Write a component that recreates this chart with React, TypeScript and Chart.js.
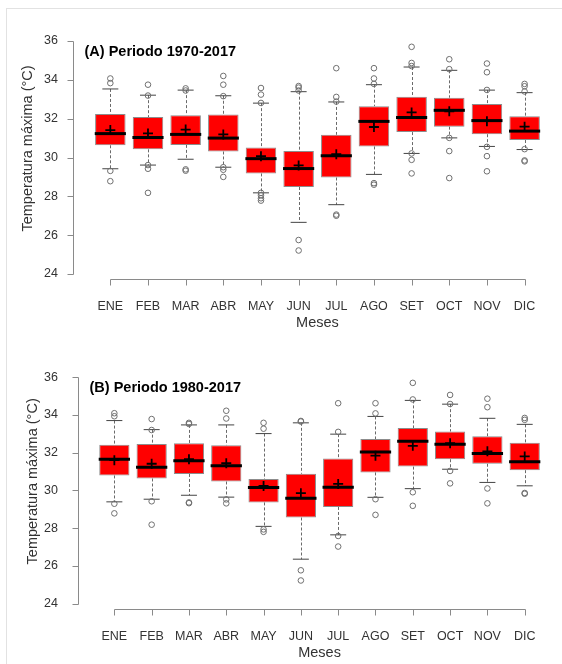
import React, { useEffect, useRef } from 'react';
import { Chart, registerables } from 'chart.js';

Chart.register(...registerables);

const months = ['ENE', 'FEB', 'MAR', 'ABR', 'MAY', 'JUN', 'JUL', 'AGO', 'SET', 'OCT', 'NOV', 'DIC'];
const yTicks = [24, 26, 28, 30, 32, 34, 36];

// Panel A: 1970-2017
const q1A = [30.63, 30.42, 30.65, 30.31, 29.18, 28.48, 28.97, 30.57, 31.31, 31.59, 31.2, 30.9];
const q3A = [32.24, 32.08, 32.18, 32.21, 30.52, 30.33, 31.17, 32.64, 33.13, 33.08, 32.75, 32.13];
const medA = [31.23, 31.03, 31.19, 31.0, 29.94, 29.43, 30.09, 31.86, 32.06, 32.43, 31.9, 31.36];
const meanA = [31.41, 31.24, 31.44, 31.19, 30.07, 29.59, 30.17, 31.57, 32.32, 32.38, 31.87, 31.59];
const hiA = [33.53, 33.21, 33.47, 33.18, 32.8, 33.39, 32.86, 33.75, 34.66, 34.49, 33.47, 33.34];
const loA = [29.42, 29.61, 29.91, 29.5, 28.18, 26.66, 27.57, 29.13, 30.21, 31.01, 30.57, 30.41];
const outA = [
  [34.07, 33.83, 29.31, 28.78],
  [33.75, 33.19, 29.61, 29.42, 28.18],
  [33.56, 33.45, 29.39, 29.32],
  [34.2, 33.75, 33.16, 29.5, 29.37, 29.0],
  [33.58, 33.24, 32.81, 28.18, 28.06, 27.9, 27.78],
  [33.68, 33.6, 33.45, 25.75, 25.21],
  [34.6, 33.12, 32.88, 27.06, 27.0],
  [34.6, 34.07, 33.79, 28.68, 28.6],
  [35.7, 34.87, 34.71, 30.21, 29.88, 29.18],
  [35.06, 34.55, 31.01, 30.33, 28.94],
  [34.84, 34.39, 33.48, 30.55, 30.07, 29.29],
  [33.79, 33.67, 33.4, 30.43, 29.85, 29.8],
];

// Panel B: 1980-2017
const q1B = [30.79, 30.63, 30.87, 30.47, 29.36, 28.56, 29.12, 30.95, 31.26, 31.65, 31.41, 31.07];
const q3B = [32.42, 32.46, 32.5, 32.39, 30.6, 30.88, 31.69, 32.72, 33.3, 33.12, 32.87, 32.53];
const medB = [31.65, 31.22, 31.57, 31.3, 30.15, 29.58, 30.17, 32.03, 32.6, 32.44, 31.96, 31.52];
const meanB = [31.6, 31.41, 31.65, 31.44, 30.23, 29.85, 30.34, 31.84, 32.36, 32.5, 32.07, 31.8];
const hiB = [33.7, 33.22, 33.47, 33.47, 33.01, 33.58, 32.98, 33.92, 34.77, 34.57, 33.82, 33.5];
const loB = [29.39, 29.53, 29.74, 29.64, 28.09, 26.35, 27.64, 29.63, 30.09, 31.12, 30.42, 30.24];
const outB = [
  [34.09, 33.93, 29.29, 28.78],
  [33.78, 33.2, 29.42, 28.18],
  [33.58, 33.52, 29.36, 29.32],
  [34.22, 33.81, 29.52, 29.31],
  [33.58, 33.27, 27.93, 27.8],
  [33.68, 33.65, 25.76, 25.22],
  [34.62, 33.1, 27.58, 27.02],
  [34.62, 34.08, 29.53, 28.7],
  [35.7, 34.82, 29.9, 29.18],
  [35.06, 34.58, 31.03, 30.37],
  [34.86, 34.41, 30.1, 29.31],
  [33.84, 33.74, 29.86, 29.82],
];

const FONT = "'Liberation Sans', Arial, Helvetica, sans-serif";

type PanelProps = {
  top: number;
  title: string;
  q1: number[];
  q3: number[];
  med: number[];
  mean: number[];
  lo: number[];
  hi: number[];
  out: number[][];
  area: { left: number; right: number; top: number; bottom: number };
};

function Panel(props: PanelProps) {
  const ref = useRef<HTMLCanvasElement>(null);
  useEffect(() => {
    const { title, q1, q3, med, mean, lo, hi, out, area } = props;
    const canvas = ref.current!;
    const W = 562;
    const H = 332;
    const outPts: { x: string; y: number }[] = [];
    out.forEach((vals, i) => vals.forEach((v) => outPts.push({ x: months[i], y: v })));

    const plugin = {
      id: 'rStyle',
      beforeDatasetsDraw(chart: any) {
        const { ctx } = chart;
        const x = chart.scales.x;
        const y = chart.scales.y;
        ctx.save();
        ctx.strokeStyle = '#6a6a6a';
        ctx.lineWidth = 1;
        ctx.setLineDash([3, 2]);
        months.forEach((_m, i) => {
          const px = Math.round(x.getPixelForValue(i)) + 0.5;
          ctx.beginPath();
          ctx.moveTo(px, y.getPixelForValue(hi[i]));
          ctx.lineTo(px, y.getPixelForValue(q3[i]));
          ctx.moveTo(px, y.getPixelForValue(q1[i]));
          ctx.lineTo(px, y.getPixelForValue(lo[i]));
          ctx.stroke();
        });
        ctx.restore();
      },
      afterDraw(chart: any) {
        const { ctx, chartArea } = chart;
        const x = chart.scales.x;
        const y = chart.scales.y;
        const x0 = x.getPixelForValue(0);
        const x11 = x.getPixelForValue(months.length - 1);
        const sp = x.getPixelForValue(1) - x0;
        const axisX = Math.round(x0 - 0.98 * sp) + 0.5;
        const axisY = Math.round(chartArea.bottom + 5) + 0.5;
        ctx.save();
        ctx.strokeStyle = '#8a8a8a';
        ctx.lineWidth = 1;
        // y axis
        const yTop = Math.round(y.getPixelForValue(yTicks[yTicks.length - 1])) + 0.5;
        const yBot = Math.round(y.getPixelForValue(yTicks[0])) + 0.5;
        ctx.beginPath();
        ctx.moveTo(axisX, yTop);
        ctx.lineTo(axisX, yBot);
        yTicks.forEach((t) => {
          const py = Math.round(y.getPixelForValue(t)) + 0.5;
          ctx.moveTo(axisX, py);
          ctx.lineTo(axisX - 6, py);
        });
        // x axis
        ctx.moveTo(Math.round(x0) + 0.5, axisY);
        ctx.lineTo(Math.round(x11) + 0.5, axisY);
        months.forEach((_m, i) => {
          const px = Math.round(x.getPixelForValue(i)) + 0.5;
          ctx.moveTo(px, axisY);
          ctx.lineTo(px, axisY + 6);
        });
        ctx.stroke();

        // panel title
        ctx.fillStyle = '#000';
        ctx.font = `bold 14.5px ${FONT}`;
        ctx.textAlign = 'left';
        ctx.textBaseline = 'middle';
        ctx.fillText(title, axisX + 11, chartArea.top + 10.5);

        // axis titles
        ctx.fillStyle = '#333';
        ctx.font = `14.5px ${FONT}`;
        ctx.textAlign = 'center';
        ctx.fillText('Meses', (x0 + x11) / 2, chartArea.bottom + 49);
        ctx.save();
        ctx.translate(axisX - 46, y.getPixelForValue(30) - 9);
        ctx.rotate(-Math.PI / 2);
        ctx.fillText('Temperatura máxima (°C)', 0, 0);
        ctx.restore();
        ctx.restore();
      },
    };

    const boxW = (area.right - area.left) / months.length;
    const chart = new Chart(canvas, {
      type: 'bar',
      data: {
        labels: months,
        datasets: [
          {
            type: 'line',
            data: mean,
            showLine: false,
            pointStyle: 'cross',
            pointRadius: 5,
            pointHoverRadius: 5,
            pointBorderWidth: 1.8,
            borderColor: '#000',
            backgroundColor: '#000',
            order: 0,
          } as any,
          {
            type: 'line',
            data: med,
            showLine: false,
            pointStyle: 'line',
            pointRadius: boxW * 0.405,
            pointHoverRadius: boxW * 0.405,
            pointBorderWidth: 3,
            borderColor: '#000',
            backgroundColor: '#000',
            order: 1,
          } as any,
          {
            type: 'line',
            data: outPts,
            showLine: false,
            pointStyle: 'circle',
            pointRadius: 2.8,
            pointHoverRadius: 2.8,
            pointBorderWidth: 1,
            borderColor: '#6f6f6f',
            backgroundColor: 'rgba(0,0,0,0)',
            order: 2,
          } as any,
          {
            type: 'line',
            data: hi,
            showLine: false,
            pointStyle: 'line',
            pointRadius: 8,
            pointHoverRadius: 8,
            pointBorderWidth: 1,
            borderColor: '#444',
            backgroundColor: '#444',
            order: 3,
          } as any,
          {
            type: 'line',
            data: lo,
            showLine: false,
            pointStyle: 'line',
            pointRadius: 8,
            pointHoverRadius: 8,
            pointBorderWidth: 1,
            borderColor: '#444',
            backgroundColor: '#444',
            order: 3,
          } as any,
          {
            type: 'bar',
            data: q1.map((v, i) => [v, q3[i]]),
            backgroundColor: '#ff0000',
            borderColor: '#8c8c8c',
            borderWidth: 1,
            borderSkipped: false,
            barPercentage: 0.81,
            categoryPercentage: 1,
            order: 10,
          } as any,
        ],
      },
      options: {
        responsive: false,
        animation: false,
        devicePixelRatio: 1,
        layout: {
          padding: { left: 0, top: area.top, right: W - area.right, bottom: 0 },
        },
        plugins: {
          legend: { display: false },
          tooltip: { enabled: false },
          title: { display: false },
        },
        scales: {
          x: {
            type: 'category',
            offset: true,
            grid: { display: false, drawTicks: false },
            border: { display: false },
            ticks: {
              color: '#333',
              font: { family: FONT, size: 12.5 },
              padding: 25.5,
              maxRotation: 0,
              autoSkip: false,
            },
            afterFit: (s: any) => {
              s.height = H - area.bottom;
            },
          },
          y: {
            type: 'linear',
            min: 24,
            max: 36,
            grid: { display: false, drawTicks: false },
            border: { display: false },
            ticks: {
              stepSize: 2,
              color: '#333',
              font: { family: FONT, size: 12.5 },
              padding: area.left - 58,
            },
            afterFit: (s: any) => {
              s.width = area.left;
            },
          },
        },
      },
      plugins: [plugin as any],
    } as any);
    return () => chart.destroy();
  }, []);
  return (
    <canvas
      ref={ref}
      width={562}
      height={332}
      style={{ position: 'absolute', left: 0, top: props.top, width: 562, height: 332, display: 'block' }}
    />
  );
}

export default function App() {
  return (
    <div style={{ position: 'absolute', left: 0, top: 0, width: 562, height: 664, background: '#fff', overflow: 'hidden' }}>
      <div
        style={{
          position: 'absolute',
          left: 6,
          top: 8,
          width: 556,
          height: 656,
          borderLeft: '1px solid #e2e2e2',
          borderTop: '1px solid #e2e2e2',
        }}
      />
      <Panel
        top={0}
        title="(A) Periodo 1970-2017"
        q1={q1A}
        q3={q3A}
        med={medA}
        mean={meanA}
        lo={loA}
        hi={hiA}
        out={outA}
        area={{ left: 91.5, right: 553.2, top: 23, bottom: 274 }}
      />
      <Panel
        top={332}
        title="(B) Periodo 1980-2017"
        q1={q1B}
        q3={q3B}
        med={medB}
        mean={meanB}
        lo={loB}
        hi={hiB}
        out={outB}
        area={{ left: 95.7, right: 559.3, top: 20, bottom: 271.5 }}
      />
    </div>
  );
}
